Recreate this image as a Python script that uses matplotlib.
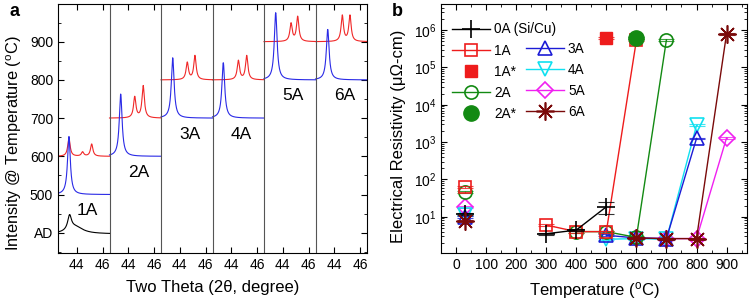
import numpy as np
import matplotlib
matplotlib.use("Agg")
import matplotlib.pyplot as plt
from matplotlib.lines import Line2D
from matplotlib.ticker import MultipleLocator, LogLocator, NullFormatter

plt.rcParams['font.family'] = ['Liberation Sans', 'DejaVu Sans']
plt.rcParams['mathtext.fontset'] = 'custom'
plt.rcParams['mathtext.rm'] = 'Liberation Sans'
plt.rcParams['mathtext.it'] = 'Liberation Sans:italic'

# ---------------- Panel a data (XRD peaks) ----------------
samples = ['1A', '2A', '3A', '4A', '5A', '6A']
blue_T = [500, 600, 700, 700, 800, 800]          # baseline offset of blue trace
red_T = [600, 700, 800, 800, 900, 900]           # baseline offset of red trace
blue_pos = [43.40, 43.42, 43.46, 43.39, 43.46, 43.50]
blue_h = [152, 163, 158, 145, 176, 132]
red_cu_pos = 43.40
red_cu_h = [48, 0, 0, 0, 0, 0]
red_a_pos = [44.45, 44.50, 44.58, 44.55, 44.64, 44.62]
red_a_h = [11, 55, 45, 50, 47, 68]
red_b_pos = [45.15, 45.15, 45.17, 45.19, 45.15, 45.21]
red_b_h = [32, 84, 63, 63, 65, 68]
ad_T = 400
ad_pos = [43.45, 43.90]
ad_h = [38, 18]
ad_w = [0.35, 1.40]
theta_ticks = [44, 46]
ytick_vals = [400, 500, 600, 700, 800, 900]
ytick_labels = ['AD', '500', '600', '700', '800', '900']

# ---------------- Panel b data (resistivity) ----------------
T_0A = [30, 300, 400, 500];        R_0A = [12, 3.5, 4.4, 18.5]
T_1A = [30, 300, 400, 500, 600];   R_1A = [62, 6.0, 4.0, 4.0, 5.3e5]
T_1As = [500];                     R_1As = [6.0e5]
T_2A = [30, 400, 500, 600, 700];   R_2A = [45, 4.0, 4.0, 2.8, 5.5e5]
T_2As = [600];                     R_2As = [6.0e5]
T_3A = [30, 500, 600, 700, 800];   R_3A = [10, 3.2, 2.7, 2.6, 1250]
T_4A = [30, 500, 600, 700, 800];   R_4A = [11, 2.5, 2.6, 2.5, 2800]
T_5A = [30, 600, 700, 800, 900];   R_5A = [18, 2.7, 2.6, 2.6, 1300]
T_6A = [30, 600, 700, 800, 900];   R_6A = [7.8, 2.7, 2.6, 2.6, 8.0e5]
err_0A_500 = 6.5

fig = plt.figure(figsize=(7.52, 3.0), dpi=100)

# ======================= Panel a =======================
axA = fig.add_axes([58/752, 47/300, 309/752, 249.5/300])
X0, X1 = 42.56, 46.52
W = X1 - X0
grid = np.linspace(X0, X1, 700)


def lor(x, c, h, w):
    return h * (w / 2) ** 2 / ((x - c) ** 2 + (w / 2) ** 2)


blue_c = '#2a2ae6'
red_c = '#f02828'
for i in range(6):
    off = i * W - X0
    yb = blue_T[i] + lor(grid, blue_pos[i], blue_h[i], 0.26)
    yr = (red_T[i] + lor(grid, red_cu_pos, red_cu_h[i], 0.22)
          + lor(grid, red_a_pos[i], red_a_h[i], 0.22)
          + lor(grid, red_b_pos[i], red_b_h[i], 0.22))
    axA.plot(grid + off, yr, color=red_c, lw=0.8)
    axA.plot(grid + off, yb, color=blue_c, lw=0.8)
    axA.text(44.8 + off, blue_T[i] - 42, samples[i], fontsize=12.5,
             ha='center', va='center')
    if i > 0:
        axA.axvline(i * W, color='#555555', lw=0.8)
yad = ad_T - 3 + sum(lor(grid, c, h, w) for c, h, w in zip(ad_pos, ad_h, ad_w))
axA.plot(grid - X0, yad, color='black', lw=0.8)

axA.set_xlim(0, 6 * W)
axA.set_ylim(347, 1000)
xt = [i * W + t - X0 for i in range(6) for t in theta_ticks]
axA.set_xticks(xt)
axA.set_xticklabels([str(t) for i in range(6) for t in theta_ticks])
axA.set_yticks(ytick_vals)
axA.set_yticklabels(ytick_labels)
axA.yaxis.set_minor_locator(MultipleLocator(50))
axA.tick_params(which='both', direction='in', top=True, right=True, labelsize=10)
axA.tick_params(which='major', length=4)
axA.tick_params(which='minor', length=2.5)
axA.set_xlabel('Two Theta (2\u03b8, degree)', fontsize=12, labelpad=6)
axA.set_ylabel('Intensity @ Temperature ($^{\\mathrm{o}}$C)', fontsize=11.8)
axA.yaxis.set_label_coords(-0.11, 0.44)
fig.text(10/752, 1 - 12/300, 'a', fontsize=13, fontweight='bold', va='center')

# ======================= Panel b =======================
axB = fig.add_axes([441/752, 47/300, 306/752, 249/300])
axB.set_yscale('log')

series = [
    ('0A (Si/Cu)', T_0A, R_0A, 'black', '+', 'full'),
    ('1A', T_1A, R_1A, '#ee1c1c', 's', 'none'),
    ('2A', T_2A, R_2A, '#138a13', 'o', 'none'),
    ('3A', T_3A, R_3A, '#1c1cd6', '^', 'none'),
    ('4A', T_4A, R_4A, '#10e0f0', 'v', 'none'),
    ('5A', T_5A, R_5A, '#f020f0', 'D', 'none'),
    ('6A', T_6A, R_6A, '#7a0a0a', (8, 2, 0), 'full'),
]
handles = {}
ms_map = {'+': 13, 's': 9, 'o': 9.5, '^': 9.5, 'v': 9.5, 'D': 8, (8, 2, 0): 13}
order = ['5A', '4A', '3A', '2A', '1A', '0A (Si/Cu)', '6A']
smap = {s[0]: s for s in series}
for name in order:
    lab, T, R, col, mk, fill = smap[name]
    T = np.array(T, float); R = np.array(R, float)
    err = 0.06 * R
    if lab.startswith('0A'):
        err = err.copy(); err[-1] = err_0A_500
    ms = ms_map[mk]
    mfc = 'none' if fill == 'none' else col
    # room-temperature (as-deposited) point, not connected
    axB.errorbar(T[:1], R[:1], yerr=err[:1], fmt='none', ecolor=col, elinewidth=0.8,
                 capsize=6, capthick=0.8, alpha=0.8)
    axB.plot(T[:1], R[:1], linestyle='none', marker=mk, ms=ms, mfc=mfc, mec=col, mew=1.2)
    axB.errorbar(T[1:], R[1:], yerr=err[1:], fmt='none', ecolor=col, elinewidth=0.8,
                 capsize=6, capthick=0.8, alpha=0.8)
    axB.plot(T[1:], R[1:], color=col, lw=1.0, marker=mk, ms=ms, mfc=mfc, mec=col, mew=1.2)
    handles[lab] = Line2D([], [], color=col, lw=1.0, marker=mk, ms=ms, mfc=mfc, mec=col, mew=1.2)

for lab, T, R, col, mk in [('1A*', T_1As, R_1As, '#ee1c1c', 's'),
                           ('2A*', T_2As, R_2As, '#138a13', 'o')]:
    ms = 9 if mk == 's' else 11
    axB.errorbar(T, R, yerr=0.06 * np.array(R), fmt='none', ecolor=col, elinewidth=0.8,
                 capsize=6, capthick=0.8, alpha=0.8)
    axB.plot(T, R, linestyle='none', marker=mk, ms=ms, mfc=col, mec=col)
    handles[lab] = Line2D([], [], linestyle='none', marker=mk, ms=ms, mfc=col, mec=col)

leg_kw = dict(loc='upper left', frameon=False, fontsize=9.8, handlelength=2.8,
              handletextpad=0.3, labelspacing=0.52, borderpad=0, borderaxespad=0)
col1 = ['0A (Si/Cu)', '1A', '1A*', '2A', '2A*']
col2 = ['3A', '4A', '5A', '6A']
leg1 = axB.legend([handles[k] for k in col1], col1, bbox_to_anchor=(0.035, 0.926), **leg_kw)
axB.add_artist(leg1)
axB.legend([handles[k] for k in col2], col2, bbox_to_anchor=(0.277, 0.849), **leg_kw)

axB.set_xlim(-50, 968)
axB.set_ylim(1.07, 5e6)
axB.set_xticks(np.arange(0, 901, 100))
axB.xaxis.set_minor_locator(MultipleLocator(50))
axB.yaxis.set_major_locator(LogLocator(base=10, numticks=10))
axB.yaxis.set_minor_locator(LogLocator(base=10, subs=np.arange(2, 10), numticks=20))
axB.yaxis.set_minor_formatter(NullFormatter())
axB.tick_params(which='both', direction='in', top=True, right=True, labelsize=10)
axB.tick_params(which='major', length=4)
axB.tick_params(which='minor', length=2)
axB.set_xlabel('Temperature ($^{\\mathrm{o}}$C)', fontsize=12, labelpad=6)
axB.set_ylabel('Electrical Resistivity (\u03bc\u03a9-cm)', fontsize=12)
axB.yaxis.set_label_coords(-0.115, 0.468)
fig.text(392/752, 1 - 12/300, 'b', fontsize=13, fontweight='bold', va='center')

fig.savefig('out.png', dpi=100)
